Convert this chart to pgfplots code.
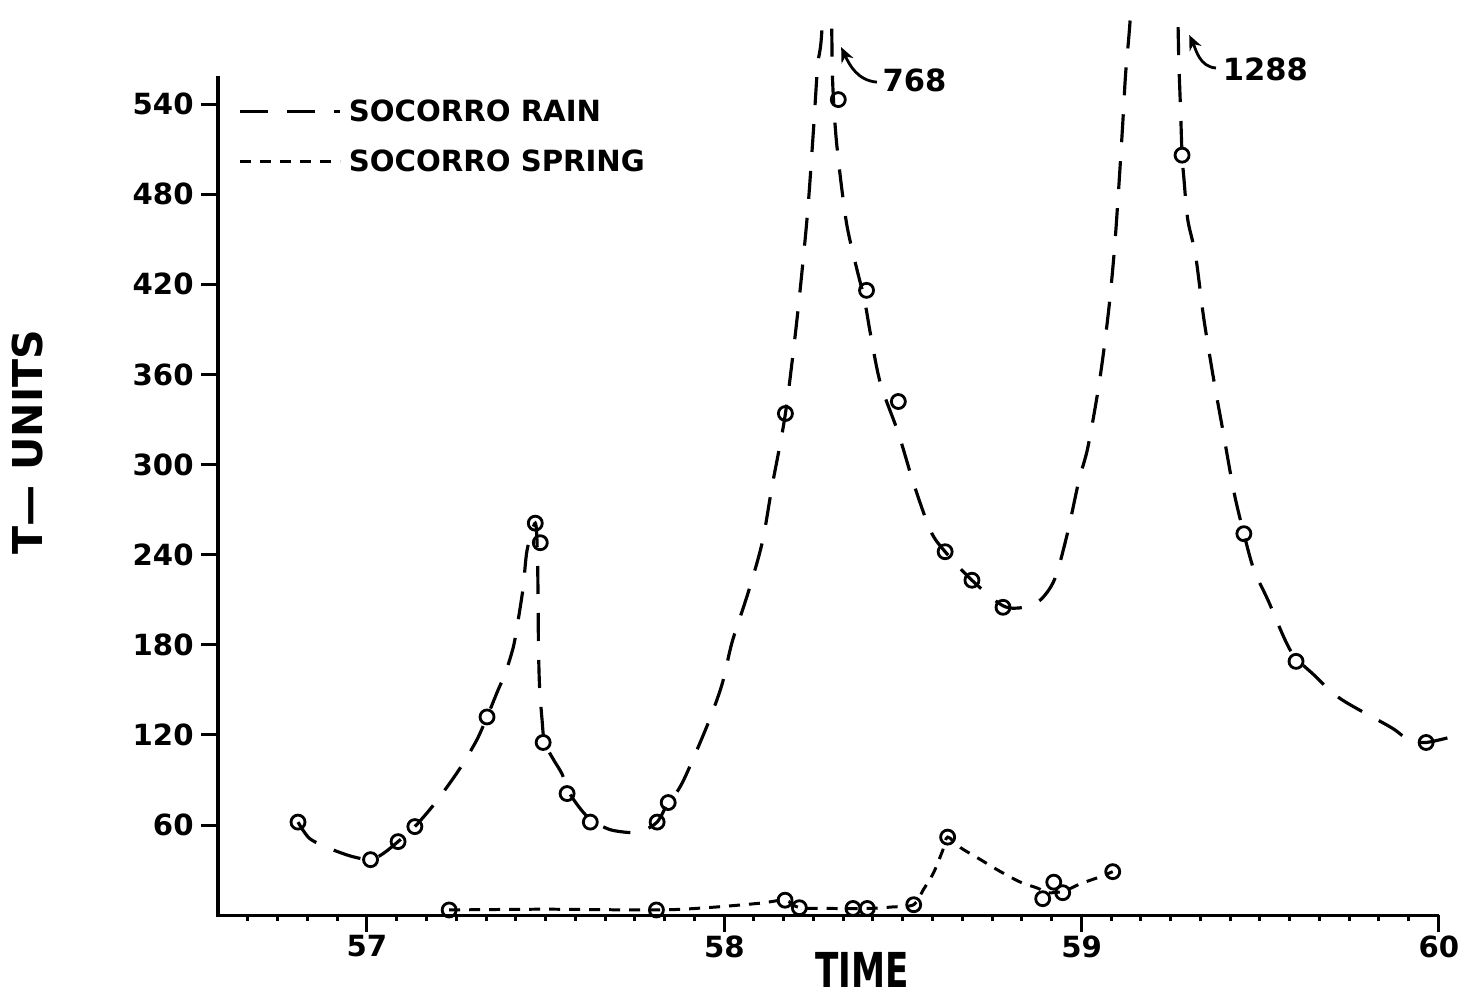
\documentclass[border=0pt]{standalone}
\usepackage{fontspec}
\setmainfont{DejaVu Sans}
\usepackage{pgfplots}
\pgfplotsset{compat=1.18}
\usetikzlibrary{arrows.meta}

\newcommand{\tickfont}{\fontsize{8.3}{10}\selectfont\bfseries}

\begin{document}
\begin{tikzpicture}
\begin{axis}[
    scale only axis, width=124.59mm, height=90.12mm,
    xmin=56.583, xmax=60.07, ymin=0, ymax=600,
    axis lines=left, axis line style={draw=none},
    xtick={57,58,59,60},
    minor xtick={56.6667,56.75,...,59.95},
    ytick={60,120,...,540},
    tick align=outside,
    major tick length=1.7mm, minor tick length=0.6mm,
    tick style={line width=0.85pt, black},
    /pgf/number format/assume math mode=true,
    ticklabel style={font=\tickfont},
    xticklabel style={yshift=0.9mm},
    yticklabel style={xshift=0.5mm},
    xlabel={\scalebox{0.71}[1]{TIME}},
    xlabel style={at={(rel axis cs:0.517,-0.061)}, anchor=center,
        font=\fontsize{13.7}{16}\selectfont\bfseries},
    ylabel={T— UNITS},
    ylabel style={at={(rel axis cs:-0.1525,0.525)}, anchor=center,
        font=\fontsize{11.7}{14}\selectfont\bfseries},
    legend style={draw=none, fill=none, at={(rel axis cs:0,1)}, anchor=north west,
        xshift=2mm, yshift=-7.8mm, font=\tickfont, row sep=0.9mm, inner sep=0pt},
    legend cell align=left,
    legend image code/.code={\draw[#1] (0mm,0.2mm) -- (10mm,0.2mm);},
]
% rain, curve as drawn
\addplot[black, line width=0.9pt, dash pattern=on 2.8mm off 1.9mm, smooth, tension=0.5]
coordinates {
(56.807,62) (56.84,51) (56.90,44) (56.96,39) (57.01,37) (57.045,41) (57.087,49)
(57.134,59) (57.185,73) (57.232,88) (57.269,101) (57.308,117) (57.336,132)
(57.367,150) (57.387,161) (57.409,178) (57.420,192) (57.437,218) (57.448,243)
(57.471,261) (57.477,240) (57.479,205) (57.480,178) (57.483,152) (57.490,130)
(57.497,115) (57.521,104) (57.546,94) (57.565,82) (57.60,70) (57.63,63) (57.68,57)
(57.737,55) (57.77,56) (57.812,62) (57.843,75) (57.87,83) (57.896,95) (57.955,128)
(57.994,154) (58.022,182) (58.067,215) (58.106,248) (58.134,286) (58.171,334)
(58.204,398) (58.232,465) (58.249,521) (58.261,565) (58.275,600) (58.289,768)
(58.300,600) (58.303,556) (58.312,520) (58.327,487) (58.344,458) (58.370,431)
(58.392,410) (58.409,387) (58.437,354) (58.487,321) (58.529,288) (58.577,256)
(58.618,242) (58.693,223) (58.78,206) (58.838,205) (58.885,210) (58.925,224)
(58.96,254) (58.992,289) (59.017,311) (59.045,348) (59.062,376) (59.078,408)
(59.092,444) (59.104,485) (59.115,527) (59.123,560) (59.137,601) (59.145,660)
(59.16,780) (59.18,1000) (59.20,1288) (59.22,1000) (59.245,780) (59.262,660)
(59.269,601) (59.272,568) (59.277,535) (59.281,506) (59.286,491) (59.297,463)
(59.319,439) (59.342,397) (59.370,356) (59.395,323) (59.426,282) (59.454,254)
(59.482,230) (59.521,210) (59.585,176) (59.65,160) (59.725,144) (59.866,125)
(59.908,118) (59.964,115) (60.07,121)
};
\addlegendentry{SOCORRO RAIN}
% spring, curve as drawn
\addplot[black, line width=0.85pt, dash pattern=on 1.1mm off 0.9mm, smooth, tension=0.5]
coordinates {
(57.23,3.5) (57.5,4) (57.81,3.5) (57.95,5) (58.10,8) (58.17,10) (58.21,5)
(58.30,4.5) (58.40,4.5) (58.47,5.5) (58.53,7) (58.557,17) (58.585,28) (58.611,43)
(58.625,52) (58.661,45) (58.717,37) (58.773,29) (58.829,22) (58.877,18) (58.905,15)
(58.95,16) (58.997,21) (59.045,25) (59.087,29)
};
\addlegendentry{SOCORRO SPRING}
% observed points
\addplot[only marks, mark=o, mark size=0.7mm, mark options={line width=0.8pt, black}, forget plot]
coordinates {
(56.807,62) (57.01,37) (57.087,49) (57.134,59) (57.336,132) (57.471,261) (57.485,248)
(57.493,115) (57.560,81) (57.625,62) (57.812,62) (57.843,75) (58.171,334) (58.319,543)
(58.398,416) (58.487,342) (58.618,242) (58.693,223) (58.78,205) (59.281,506)
(59.454,254) (59.60,169) (59.964,115)
};
\addplot[only marks, mark=o, mark size=0.7mm, mark options={line width=0.8pt, black}, forget plot]
coordinates {
(57.23,3.5) (57.81,3.5) (58.17,10) (58.21,5) (58.36,4.5) (58.40,4.5) (58.53,7)
(58.625,52) (58.891,11) (58.922,22) (58.947,15) (59.087,29)
};
% off-scale peaks
\node[anchor=west, inner sep=0pt, font=\fontsize{8.7}{10}\selectfont\bfseries] at (axis cs:58.441,556) {768};
\draw[line width=0.8pt, -{Stealth[length=1.5mm,width=1.3mm]}]
    (axis cs:58.427,554.6) to[out=175,in=-65] (axis cs:58.327,577.9);
\node[anchor=west, inner sep=0pt, font=\fontsize{8.7}{10}\selectfont\bfseries] at (axis cs:59.393,563) {1288};
\draw[line width=0.8pt, -{Stealth[length=1.5mm,width=1.3mm]}]
    (axis cs:59.376,564) to[out=175,in=-65] (axis cs:59.301,586);
\coordinate (O) at (axis cs:56.583,0);
\coordinate (Yt) at (axis cs:56.583,559);
\coordinate (Xe) at (axis cs:60,0);
\coordinate (BL) at (axis cs:55.973,-51.9);
\coordinate (TR) at (axis cs:60.098,609.3);
\end{axis}
\draw[line width=0.9pt] (Yt) -- (O) -- (Xe);
\path (BL) rectangle (TR);
\end{tikzpicture}
\end{document}
